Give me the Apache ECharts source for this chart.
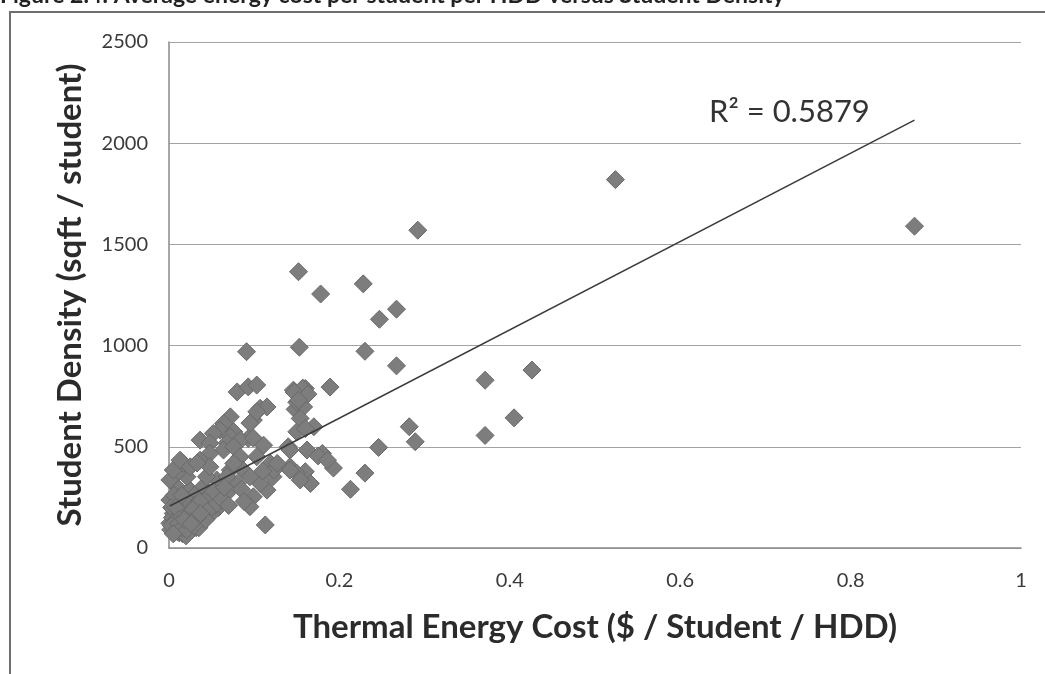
<!DOCTYPE html>
<html><head><meta charset="utf-8">
<script src="https://cdn.jsdelivr.net/npm/echarts@6/dist/echarts.min.js"></script>
<style>html,body{margin:0;padding:0;background:#fff}#c{width:1045px;height:674px}</style>
</head><body><div id="c"></div>
<script>
// Thermal energy cost ($ / student / HDD)
const costX = [
  0.875,0.524,0.292,0.152,0.228,0.178,0.267,0.247,0.426,0.371,0.405,0.371,0.153,0.230,0.091,0.267,
  0.282,0.289,0.246,0.230,0.213,0.189,0.146,0.160,0.148,0.158,0.150,0.170,0.140,0.162,0.180,0.193,
  0.142,0.160,0.150,0.166,0.175,0.186,0.142,0.142,0.154,
  0.080,0.093,0.103,0.107,0.115,0.099,0.103,0.095,0.072,0.064,0.060,0.076,0.052,0.072,0.093,0.084,
  0.099,0.111,0.0365,0.048,0.068,0.064,0.076,0.0835,0.103,0.119,0.122,0.115,0.099,0.095,0.113,0.107,
  0.123,0.127,0.087,0.095,0.072,0.080,0.068,0.056,0.044,0.0365,0.0247,0.013,0.005,0.001,0.009,0.0247,
  0.040,0.056,0.048,0.0365,0.021,0.009,0.017,0.001,0.005,0.013,0.025,0.0286,0.017,0.017,0.0326,0.044,
  0.068,0.076,0.048,0.001,0.012,0.060,0.085,0.030,0.050,0.025,0.033,0.058,0.088,0.110,
  0.004,0.008,0.010,0.014,0.018,0.020,0.022,0.026,0.030,0.034,0.038,0.042,0.046,0.050,0.054,
  0.006,0.012,0.016,0.024,0.028,0.036,0.040,0.052,0.062,0.070,0.003,0.015,0.032,0.045,0.065,
  0.002,0.006,0.010,0.014,0.019,0.023,0.027,0.031,0.035,0.039,0.043,0.008,0.020,0.028,0.012,
  0.154,0.160,0.150,
  0.003,0.007,0.011,0.016,0.021,0.025,0.029,0.033,0.005,0.018,0.026,0.037,
  0.157,0.147,0.163,0.152
];
// Student density (sqft / student)
const densityY = [
  1590,1820,1570,1365,1305,1255,1180,1130,879,829,643,556,992,972,970,900,
  599,525,497,370,290,795,780,788,685,697,574,599,500,484,467,395,
  401,377,369,319,455,434,484,385,336,
  771,796,805,690,697,632,673,617,648,615,582,574,566,549,541,533,
  543,508,533,518,518,484,500,451,451,418,352,286,253,204,114,319,
  385,418,385,352,385,319,270,237,204,138,89,122,171,237,303,286,
  303,336,467,434,352,369,418,336,385,434,401,221,221,171,171,352,
  352,418,401,122,75,300,290,260,270,130,420,200,230,380,
  150,110,200,90,160,240,130,100,210,150,120,190,250,170,210,
  260,180,70,150,110,230,130,280,240,210,200,260,100,180,300,
  90,130,80,170,110,150,90,130,100,160,140,200,60,190,140,
  640,590,720,
  110,80,120,100,90,130,110,150,70,140,120,170,
  790,770,760,730
];
const xTicks = [0, 0.2, 0.4, 0.6, 0.8, 1];
const yTicks = [0, 500, 1000, 1500, 2000, 2500];
const r2Label = 'R\u00b2 = 0.5879';

const points = costX.map((x, i) => [x, densityY[i]]);
// least-squares linear trend line over data range
const n = points.length;
const mx = costX.reduce((a, b) => a + b, 0) / n;
const my = densityY.reduce((a, b) => a + b, 0) / n;
let sxy = 0, sxx = 0;
points.forEach(([x, y]) => { sxy += (x - mx) * (y - my); sxx += (x - mx) * (x - mx); });
const slope = sxy / sxx, intercept = my - slope * mx;
const xmin = Math.min(...costX), xmax = Math.max(...costX);
const trend = [[xmin, intercept + slope * xmin], [xmax, intercept + slope * xmax]];

const FONT = 'Lato';
const chart = echarts.init(document.getElementById('c'));
chart.setOption({
  animation: false,
  backgroundColor: '#ffffff',
  grid: { left: 169, right: 24, top: 42, bottom: 126, containLabel: false },
  xAxis: {
    type: 'value', min: xTicks[0], max: xTicks[xTicks.length - 1], interval: 0.2,
    name: 'Thermal Energy Cost ($ / Student / HDD)', nameLocation: 'middle', nameGap: 63,
    nameTextStyle: { fontFamily: FONT, fontWeight: 'bold', fontSize: 33, color: '#2b2b2b' },
    axisLine: { show: true, lineStyle: { color: '#8a8a8a', width: 1.5 } },
    axisTick: { show: false },
    axisLabel: { margin: 23, fontFamily: FONT, fontSize: 20, color: '#3a3a3a',
      formatter: v => String(Math.round(v * 10) / 10) },
    splitLine: { show: false }
  },
  yAxis: {
    type: 'value', min: yTicks[0], max: yTicks[yTicks.length - 1], interval: 500,
    name: 'Student Density (sqft / student)', nameLocation: 'middle', nameGap: 82,
    nameTextStyle: { fontFamily: FONT, fontWeight: 'bold', fontSize: 33, color: '#2b2b2b' },
    axisLine: { show: true, lineStyle: { color: '#8a8a8a', width: 1.5 } },
    axisTick: { show: false },
    axisLabel: { margin: 21, fontFamily: FONT, fontSize: 20, color: '#3a3a3a',
      formatter: v => String(v) },
    splitLine: { show: true, lineStyle: { color: '#a3a3a3', width: 1 } }
  },
  series: [
    {
      type: 'scatter', data: points, symbol: 'diamond', symbolSize: 18,
      itemStyle: { color: '#7d7d7d', borderColor: '#6a6a6a', borderWidth: 1, opacity: 1 },
      z: 2
    },
    {
      type: 'line', data: trend, symbol: 'none', silent: true,
      lineStyle: { color: '#3a3a3a', width: 1.5 }, z: 3
    }
  ],
  graphic: [
    { type: 'rect', shape: { x: 10, y: 12, width: 1100, height: 700 },
      style: { fill: 'none', stroke: '#6f6f6f', lineWidth: 2 }, silent: true },
    { type: 'text', left: 0, top: -16,
      style: { text: 'Figure 2.4: Average energy cost per student per HDD versus Student Density',
        font: 'bold 23px ' + FONT, fill: '#222' } },
    { type: 'text', left: 709, top: 96,
      style: { text: r2Label, font: '31px ' + FONT, fill: '#333' } }
  ]
});
</script></body></html>
